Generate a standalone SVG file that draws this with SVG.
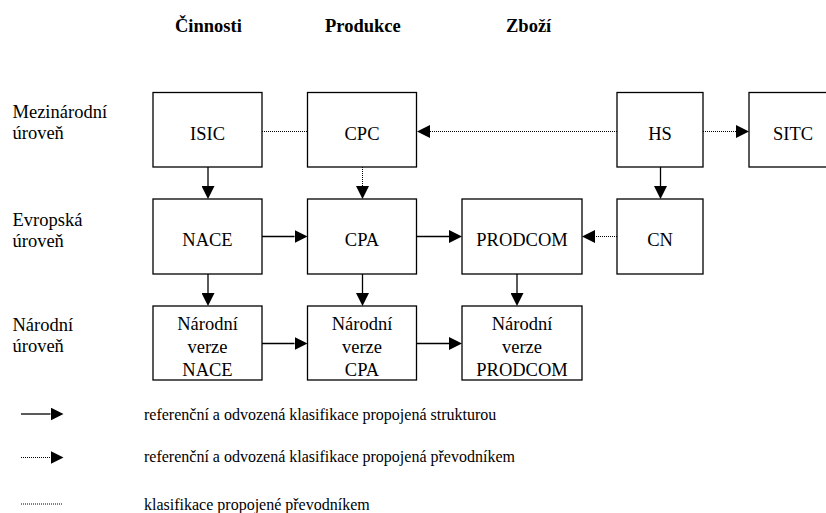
<svg xmlns="http://www.w3.org/2000/svg" width="826" height="513" viewBox="0 0 826 513">
<style>
text{font-family:"Liberation Serif","Times New Roman",serif;fill:#000}
.h{font-size:18.5px;font-weight:bold}
.lbl{font-size:18.5px}
.bt{font-size:18.5px;text-anchor:middle}
.leg{font-size:16px}
.box{fill:#fff;stroke:#000;stroke-width:1.3}
.solid{stroke:#000;stroke-width:1.3;fill:none}
.dot{stroke:#000;stroke-width:1;stroke-dasharray:1 1;fill:none}
</style>
<defs>
<marker id="ah" viewBox="0 0 13 13" refX="0" refY="6.5" markerWidth="13" markerHeight="13" markerUnits="userSpaceOnUse" orient="auto">
<path d="M0,0 L13,6.5 L0,13 z" fill="#000"/>
</marker>
</defs>
<rect width="826" height="513" fill="#fff"/>
<g id="headings">
<text class="h" x="175" y="32">Činnosti</text>
<text class="h" x="325" y="32">Produkce</text>
<text class="h" x="506" y="32">Zboží</text>
</g>
<g id="levels">
<text class="lbl" x="12.5" y="117.5">Mezinárodní</text>
<text class="lbl" x="12.5" y="138.5">úroveň</text>
<text class="lbl" x="12.5" y="225.5">Evropská</text>
<text class="lbl" x="12.5" y="246.5">úroveň</text>
<text class="lbl" x="12.5" y="330.5">Národní</text>
<text class="lbl" x="12.5" y="351.5">úroveň</text>
</g>
<g id="connectors">
<line class="dot" x1="262" y1="131.5" x2="307.5" y2="131.5"/>
<line class="dot" x1="617" y1="131.5" x2="430" y2="131.5" marker-end="url(#ah)"/>
<line class="dot" x1="703" y1="131.5" x2="736" y2="131.5" marker-end="url(#ah)"/>
<line class="solid" x1="208" y1="167" x2="208" y2="186" marker-end="url(#ah)"/>
<line class="dot" x1="362.5" y1="167" x2="362.5" y2="186" marker-end="url(#ah)"/>
<line class="solid" x1="660.5" y1="167" x2="660.5" y2="186" marker-end="url(#ah)"/>
<line class="solid" x1="262" y1="236.5" x2="294.5" y2="236.5" marker-end="url(#ah)"/>
<line class="solid" x1="416.5" y1="236.5" x2="449" y2="236.5" marker-end="url(#ah)"/>
<line class="dot" x1="617" y1="236.5" x2="595" y2="236.5" marker-end="url(#ah)"/>
<line class="solid" x1="208" y1="274" x2="208" y2="293" marker-end="url(#ah)"/>
<line class="solid" x1="362.5" y1="274" x2="362.5" y2="293" marker-end="url(#ah)"/>
<line class="solid" x1="517" y1="274" x2="517" y2="293" marker-end="url(#ah)"/>
<line class="solid" x1="262" y1="343.5" x2="294.5" y2="343.5" marker-end="url(#ah)"/>
<line class="solid" x1="416.5" y1="343.5" x2="449" y2="343.5" marker-end="url(#ah)"/>
</g>
<g id="ISIC"><rect class="box" x="153" y="92.5" width="109" height="74.5"/><text class="bt" x="207.5" y="140">ISIC</text></g>
<g id="CPC"><rect class="box" x="307.5" y="92.5" width="109" height="74.5"/><text class="bt" x="362" y="140">CPC</text></g>
<g id="HS"><rect class="box" x="617" y="92.5" width="86" height="74.5"/><text class="bt" x="660" y="140">HS</text></g>
<g id="SITC"><rect class="box" x="749" y="92.5" width="100" height="74.5"/><text class="bt" x="793" y="140">SITC</text></g>
<g id="NACE"><rect class="box" x="153" y="199" width="109" height="75"/><text class="bt" x="207.5" y="246">NACE</text></g>
<g id="CPA"><rect class="box" x="307.5" y="199" width="109" height="75"/><text class="bt" x="362" y="246">CPA</text></g>
<g id="PRODCOM"><rect class="box" x="462" y="199" width="120" height="75"/><text class="bt" x="522" y="246">PRODCOM</text></g>
<g id="CN"><rect class="box" x="617" y="199" width="86" height="75"/><text class="bt" x="660" y="246">CN</text></g>
<g id="NV_NACE"><rect class="box" x="153" y="306" width="109" height="74"/><text class="bt" x="207.5" y="330">Národní</text><text class="bt" x="207.5" y="353">verze</text><text class="bt" x="207.5" y="375.5">NACE</text></g>
<g id="NV_CPA"><rect class="box" x="307.5" y="306" width="109" height="74"/><text class="bt" x="362" y="330">Národní</text><text class="bt" x="362" y="353">verze</text><text class="bt" x="362" y="375.5">CPA</text></g>
<g id="NV_PRODCOM"><rect class="box" x="462" y="306" width="120" height="74"/><text class="bt" x="522" y="330">Národní</text><text class="bt" x="522" y="353">verze</text><text class="bt" x="522" y="375.5">PRODCOM</text></g>
<g id="legend">
<line class="solid" x1="21" y1="414" x2="50.5" y2="414" marker-end="url(#ah)"/>
<line class="dot" x1="21" y1="457.5" x2="50.5" y2="457.5" marker-end="url(#ah)"/>
<line class="dot" x1="21" y1="504" x2="63" y2="504"/>
<text class="leg" x="144" y="420">referenční a odvozená klasifikace propojená strukturou</text>
<text class="leg" x="144" y="462">referenční a odvozená klasifikace propojená převodníkem</text>
<text class="leg" x="144" y="510">klasifikace propojené převodníkem</text>
</g>
</svg>
